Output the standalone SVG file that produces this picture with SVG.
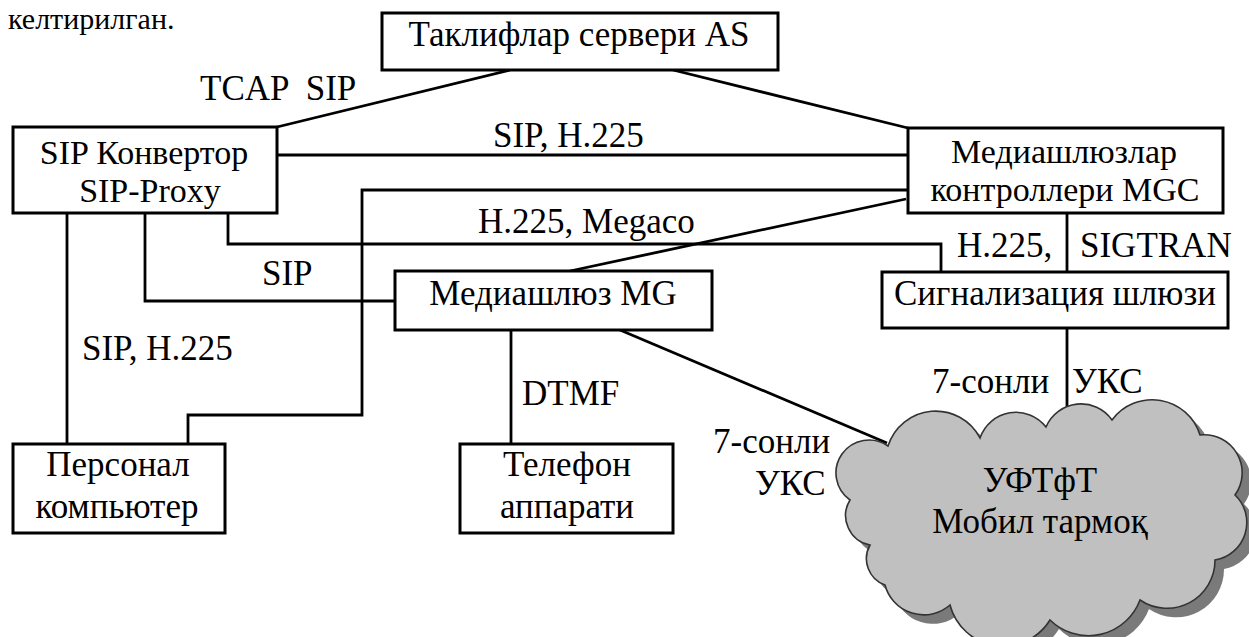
<svg xmlns="http://www.w3.org/2000/svg" width="1249" height="637" viewBox="0 0 1249 637">
<style>
.box{fill:#fff;stroke:#000;stroke-width:3}
.ln{fill:none;stroke:#000;stroke-width:2.8}
</style>
<defs>
<path id="cloud" d="M888,446 A50,50 0 0 1 980,438 A38,38 0 0 1 1046,427 A38,38 0 0 1 1112,420 A50,50 0 0 1 1200,435 A38,38 0 0 1 1235,495 A38,38 0 0 1 1215,560 A48,48 0 0 1 1140,600 A55,55 0 0 1 1050,620 A55,55 0 0 1 950,605 A40,40 0 0 1 885,585 A28,28 0 0 1 870,545 A30,30 0 0 1 850,500 A30,30 0 0 1 888,446 Z"/>
</defs>
<rect width="1249" height="637" fill="#fff"/>
<g font-family="Liberation Serif" font-size="35" fill="#000">
<text x="8" y="29" font-family="Liberation Serif" font-size="30">келтирилган.</text>
<g id="connectors">
<line class="ln" x1="510" y1="70" x2="277" y2="127"/>
<line class="ln" x1="673" y1="70" x2="908" y2="128"/>
<line class="ln" x1="277" y1="155" x2="908" y2="155"/>
<polyline class="ln" points="908,190 362,190 362,415 188,415 188,444"/>
<polyline class="ln" points="228,213 228,244 941,244 941,272"/>
<line class="ln" x1="570" y1="271" x2="906" y2="199"/>
<line class="ln" x1="67" y1="213" x2="67" y2="444"/>
<polyline class="ln" points="145,213 145,301 395,301"/>
<line class="ln" x1="511" y1="330" x2="511" y2="444"/>
<line class="ln" x1="620" y1="330" x2="887" y2="443"/>
<line class="ln" x1="1067" y1="213" x2="1067" y2="272"/>
<line class="ln" x1="1067" y1="328" x2="1067" y2="416"/>
<text x="200" y="100" font-family="Liberation Serif" font-size="35" xml:space="preserve">TCAP  SIP</text>
<text x="493" y="147" font-family="Liberation Serif" font-size="35">SIP, H.225</text>
<text x="478" y="233" font-family="Liberation Serif" font-size="35">H.225, Megaco</text>
<text x="262" y="285" font-family="Liberation Serif" font-size="35">SIP</text>
<text x="82" y="360" font-family="Liberation Serif" font-size="35">SIP, H.225</text>
<text x="522" y="405" font-family="Liberation Serif" font-size="35">DTMF</text>
<text x="713" y="453" font-family="Liberation Serif" font-size="35">7-сонли</text>
<text x="755" y="495" font-family="Liberation Serif" font-size="35">УКС</text>
<text x="957" y="257" font-family="Liberation Serif" font-size="35">H.225,</text>
<text x="1080" y="257" font-family="Liberation Serif" font-size="35">SIGTRAN</text>
<text x="932" y="393" font-family="Liberation Serif" font-size="35">7-сонли</text>
<text x="1072" y="393" font-family="Liberation Serif" font-size="35">УКС</text>
</g>
<g id="as"><rect class="box" x="382" y="13" width="396" height="57"/><text text-anchor="middle" x="579" y="46" font-family="Liberation Serif" font-size="35">Таклифлар сервери AS</text></g>
<g id="sip"><rect class="box" x="13" y="127" width="264" height="86"/><text text-anchor="middle" x="144" y="164" font-family="Liberation Serif" font-size="34">SIP Конвертор</text><text text-anchor="middle" x="150" y="202" font-family="Liberation Serif" font-size="34">SIP-Proxy</text></g>
<g id="mgc"><rect class="box" x="908" y="128" width="315" height="85"/><text text-anchor="middle" x="1064" y="163" font-family="Liberation Serif" font-size="34">Медиашлюзлар</text><text text-anchor="middle" x="1065" y="201" font-family="Liberation Serif" font-size="34">контроллери MGC</text></g>
<g id="mg"><rect class="box" x="395" y="271" width="317" height="59"/><text text-anchor="middle" x="553" y="305" font-family="Liberation Serif" font-size="35">Медиашлюз MG</text></g>
<g id="sg"><rect class="box" x="882" y="272" width="346" height="56"/><text text-anchor="middle" x="1055" y="305" font-family="Liberation Serif" font-size="35">Сигнализация шлюзи</text></g>
<g id="pc"><rect class="box" x="13" y="444" width="212" height="89"/><text text-anchor="middle" x="118" y="476" font-family="Liberation Serif" font-size="35">Персонал</text><text text-anchor="middle" x="117" y="518" font-family="Liberation Serif" font-size="35">компьютер</text></g>
<g id="phone"><rect class="box" x="460" y="444" width="213" height="89"/><text text-anchor="middle" x="567" y="476" font-family="Liberation Serif" font-size="35">Телефон</text><text text-anchor="middle" x="567" y="518" font-family="Liberation Serif" font-size="35">аппарати</text></g>
<g id="cloud-node">
<use href="#cloud" transform="translate(9,9)" fill="#7a7a7a" stroke="none"/>
<use href="#cloud" fill="#c0c0c0" stroke="#333" stroke-width="1.6"/>
<text text-anchor="middle" x="1040" y="492" font-family="Liberation Serif" font-size="35">УФТфТ</text>
<text text-anchor="middle" x="1040" y="533" font-family="Liberation Serif" font-size="35">Мобил тармоқ</text>
</g>
</g>
</svg>
